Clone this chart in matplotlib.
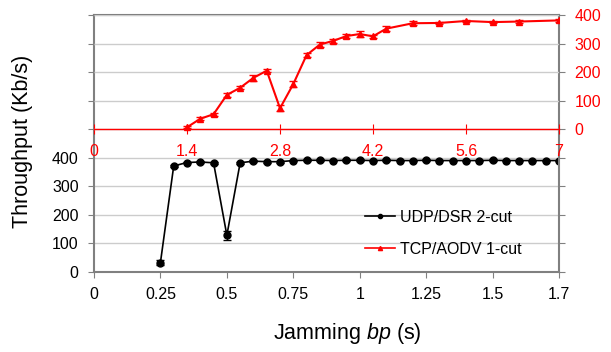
import matplotlib
matplotlib.use("Agg")
import matplotlib.pyplot as plt
from matplotlib.lines import Line2D

plt.rcParams["font.family"] = ["Liberation Sans", "DejaVu Sans"]
plt.rcParams["mathtext.fontset"] = "custom"
plt.rcParams["mathtext.it"] = "Liberation Sans:italic"
plt.rcParams["mathtext.rm"] = "Liberation Sans"

# UDP/DSR 2-cut (black, bottom axes)
udp_bp = [0.25, 0.3, 0.35, 0.4, 0.45, 0.5, 0.55, 0.6, 0.65, 0.7, 0.75, 0.8, 0.85,
          0.9, 0.95, 1.0, 1.05, 1.1, 1.15, 1.2, 1.25, 1.3, 1.35, 1.4, 1.45, 1.5,
          1.55, 1.6, 1.65, 1.7, 1.75]
udp_thr = [32, 372, 384, 386, 383, 128, 383, 389, 387, 387, 391, 392, 392, 391,
           392, 392, 391, 392, 391, 391, 392, 391, 391, 391, 391, 392, 391, 391,
           391, 391, 391]
udp_err = [8, 3, 3, 3, 3, 16, 3, 3, 3, 3, 3, 3, 3, 3, 3, 3, 3, 3, 3, 3, 3, 3, 3,
           3, 3, 3, 3, 3, 3, 3, 3]
bp_ticks = [0, 0.25, 0.5, 0.75, 1.0, 1.25, 1.5, 1.75]
bp_labels = ["0", "0.25", "0.5", "0.75", "1", "1.25", "1.5", "1.7"]

# TCP/AODV 1-cut (red, top axes)
tcp_bp = [1.4, 1.6, 1.8, 2.0, 2.2, 2.4, 2.6, 2.8, 3.0, 3.2, 3.4, 3.6, 3.8, 4.0,
          4.2, 4.4, 4.8, 5.2, 5.6, 6.0, 6.4, 7.0]
tcp_thr = [6, 36, 52, 120, 145, 180, 205, 73, 158, 260, 297, 310, 327, 334, 326,
           353, 372, 373, 380, 376, 378, 382]
tcp_err = [4, 5, 6, 8, 6, 10, 5, 10, 12, 8, 10, 6, 6, 12, 5, 8, 7, 5, 5, 4, 4, 5]
tcp_ticks = [0, 1.4, 2.8, 4.2, 5.6, 7]
tcp_labels = ["0", "1.4", "2.8", "4.2", "5.6", "7"]

thr_ticks = [0, 100, 200, 300, 400]

fig = plt.figure(figsize=(6.11, 3.52), dpi=100)
rect = [94 / 611, 1 - 271.7 / 352, 465 / 611, 256.7 / 352]
ax = fig.add_axes(rect)
ax2 = fig.add_axes(rect)
ax2.patch.set_visible(False)

grey = "#808080"
gridc = "#cccccc"

# bottom (black) axes
ax.set_xlim(0, 1.75)
ax.set_ylim(0, 903)
ax.set_xticks(bp_ticks)
ax.set_xticklabels(bp_labels)
ax.set_yticks(thr_ticks)
ax.yaxis.grid(True, color=gridc, lw=1)
ax.set_axisbelow(True)
ax.tick_params(axis="x", direction="out", length=4, color=grey, pad=7, labelsize=11.5)
ax.tick_params(axis="y", left=True, right=True, direction="out", length=4,
               color=grey, pad=7, labelsize=11.5)
for s in ax.spines.values():
    s.set_color(grey)
    s.set_linewidth(1.5)
ax.errorbar(udp_bp, udp_thr, yerr=udp_err, color="black", marker="o", ms=5,
            lw=1.2, capsize=3, elinewidth=1)

# top (red) axes
ax2.set_xlim(0, 7)
ax2.set_ylim(-502, 401)
ax2.set_xticks(tcp_ticks)
ax2.set_xticklabels(tcp_labels)
ax2.set_yticks(thr_ticks)
ax2.yaxis.tick_right()
ax2.yaxis.grid(True, color=gridc, lw=1)
ax2.tick_params(axis="y", left=True, right=True, labelleft=False, labelright=True,
                direction="out", length=4, color=grey, labelcolor="red", pad=7,
                labelsize=11.5)
ax2.tick_params(axis="x", direction="inout", length=7, color="red", labelcolor="red",
                pad=7, labelsize=11.5)
for side in ["top", "left", "right"]:
    ax2.spines[side].set_visible(False)
ax2.spines["bottom"].set_position(("data", 0))
ax2.spines["bottom"].set_color("red")
ax2.spines["bottom"].set_linewidth(1)
ax2.errorbar(tcp_bp, tcp_thr, yerr=tcp_err, color="red", marker="^", ms=5,
             lw=1.5, capsize=3, elinewidth=1)

handles = [
    Line2D([], [], color="black", marker="o", ms=3, lw=1.2),
    Line2D([], [], color="red", marker="^", ms=3, lw=1.2),
]
fig.legend(handles, ["UDP/DSR 2-cut", "TCP/AODV 1-cut"], loc="upper left",
           bbox_to_anchor=(365 / 611, 1 - 210 / 352), frameon=False,
           borderpad=0, borderaxespad=0, handlelength=1.9, handletextpad=0.3,
           labelspacing=1.05, fontsize=11.5)

fig.text(23 / 611, 1 - 141.5 / 352, "Throughput (Kb/s)", rotation=90,
         ha="center", va="center", fontsize=15.5)
fig.text(347 / 611, 1 - 333 / 352, r"Jamming $\mathit{bp}$ (s)",
         ha="center", va="center", fontsize=15.5)

fig.savefig("out.png", dpi=100)
